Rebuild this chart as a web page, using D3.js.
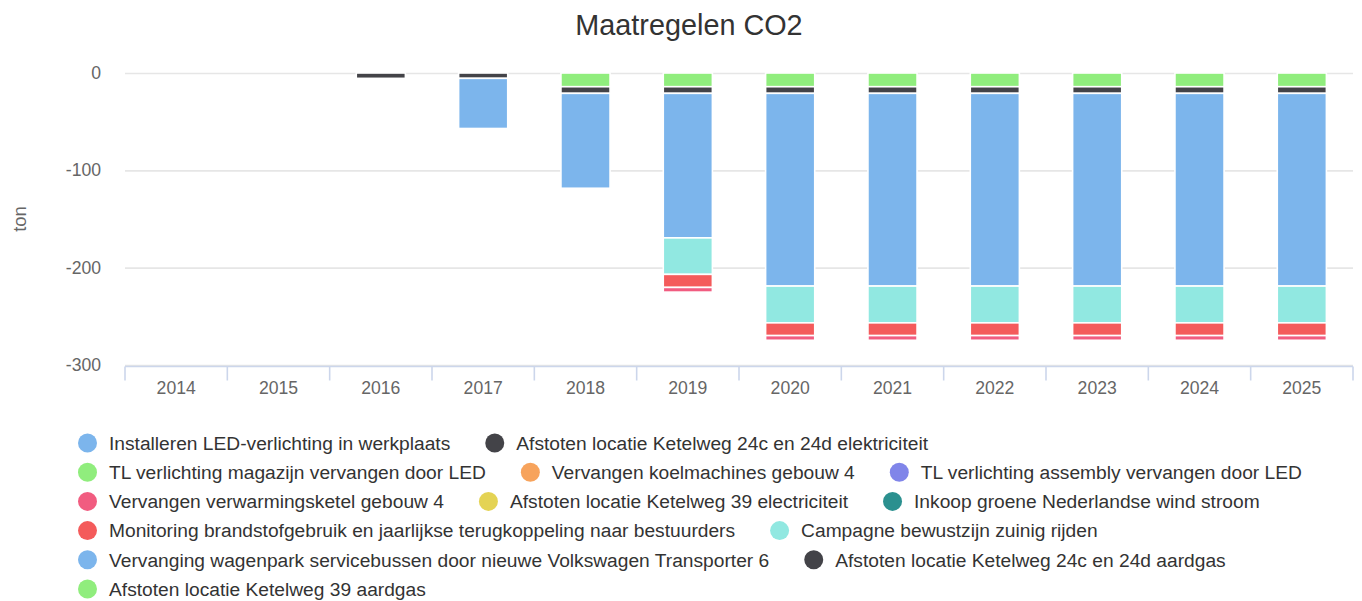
<!DOCTYPE html>
<html>
<head>
<meta charset="utf-8">
<script src="https://cdn.jsdelivr.net/npm/d3@7"></script>
<style>
  body { margin: 0; background: #fff; }
  svg { font-family: "Liberation Sans", Arial, Helvetica, sans-serif; }
</style>
</head>
<body>
<div id="chart"></div>
<script>
// categories and tick values
var years = ["2014", "2015", "2016", "2017", "2018", "2019", "2020", "2021", "2022", "2023", "2024", "2025"];
var yTicks = [0, -100, -200, -300];

// series names (legend order) and colours
var seriesNames = [
  "Installeren LED-verlichting in werkplaats",
  "Afstoten locatie Ketelweg 24c en 24d elektriciteit",
  "TL verlichting magazijn vervangen door LED",
  "Vervangen koelmachines gebouw 4",
  "TL verlichting assembly vervangen door LED",
  "Vervangen verwarmingsketel gebouw 4",
  "Afstoten locatie Ketelweg 39 electriciteit",
  "Inkoop groene Nederlandse wind stroom",
  "Monitoring brandstofgebruik en jaarlijkse terugkoppeling naar bestuurders",
  "Campagne bewustzijn zuinig rijden",
  "Vervanging wagenpark servicebussen door nieuwe Volkswagen Transporter 6",
  "Afstoten locatie Ketelweg 24c en 24d aardgas",
  "Afstoten locatie Ketelweg 39 aardgas"
];
var seriesColors = ["#7cb5ec", "#434348", "#90ed7d", "#f7a35c", "#8085e9", "#f15c80",
  "#e4d354", "#2b908f", "#f45b5b", "#91e8e1", "#7cb5ec", "#434348", "#90ed7d"];

// values per series (ton), one per year
var ledWerkplaats   = [0, 0, 0, 0, 0, 0, 0, 0, 0, 0, 0, 0];
var ketel24Elec     = [0, 0, 0, 0, 0, 0, 0, 0, 0, 0, 0, 0];
var tlMagazijn      = [0, 0, 0, 0, 0, 0, 0, 0, 0, 0, 0, 0];
var koelmachines    = [0, 0, 0, 0, 0, 0, 0, 0, 0, 0, 0, 0];
var tlAssembly      = [0, 0, 0, 0, 0, 0, 0, 0, 0, 0, 0, 0];
var verwarming      = [0, 0, 0, 0, 0, -4.8, -4.8, -4.8, -4.8, -4.8, -4.8, -4.8];
var ketel39Elec     = [0, 0, 0, 0, 0, 0, 0, 0, 0, 0, 0, 0];
var windStroom      = [0, 0, 0, 0, 0, 0, 0, 0, 0, 0, 0, 0];
var monitoring      = [0, 0, 0, 0, 0, -13.4, -13.1, -13.1, -13.1, -13.1, -13.1, -13.1];
var campagne        = [0, 0, 0, 0, 0, -37.5, -37.8, -37.8, -37.8, -37.8, -37.8, -37.8];
var wagenpark       = [0, 0, 0, -51.5, -97.5, -148.5, -198, -198, -198, -198, -198, -198];
var ketel24Gas      = [0, 0, -5.5, -5.5, -6.8, -6.8, -6.8, -6.8, -6.8, -6.8, -6.8, -6.8];
var ketel39Gas      = [0, 0, 0, 0, -14.1, -14.1, -14.1, -14.1, -14.1, -14.1, -14.1, -14.1];

var seriesValues = [ledWerkplaats, ketel24Elec, tlMagazijn, koelmachines, tlAssembly, verwarming,
  ketel39Elec, windStroom, monitoring, campagne, wagenpark, ketel24Gas, ketel39Gas];

// dimensions
var W = 1362, H = 601;
var margin = { top: 73, left: 125, right: 9 };
var plotW = W - margin.left - margin.right,
    plotH = 292;

var svg = d3.select("#chart").append("svg")
    .attr("width", W)
    .attr("height", H);

// title
svg.append("text")
    .attr("x", 689)
    .attr("y", 35)
    .attr("text-anchor", "middle")
    .attr("fill", "#333333")
    .style("font-size", "28.8px")
    .text("Maatregelen CO2");

var g = svg.append("g")
    .attr("transform", "translate(" + margin.left + "," + margin.top + ")");

// scales
var x = d3.scaleBand().domain(years).range([0, plotW]).padding(0);
var y = d3.scaleLinear().domain([-300, 0]).range([plotH, 0]);

// y grid + labels
var yAxis = g.append("g")
    .call(d3.axisLeft(y).tickValues(yTicks).tickSize(-plotW).tickPadding(24)
      .tickFormat(function(d) { return String(d); }));
yAxis.select(".domain").remove();
yAxis.selectAll(".tick line").attr("stroke", "#e6e6e6").attr("stroke-width", 1.6);
yAxis.selectAll(".tick text").attr("fill", "#666666").style("font-size", "17.6px");

// y axis title
svg.append("text")
    .attr("transform", "translate(26," + (margin.top + plotH / 2) + ") rotate(-90)")
    .attr("text-anchor", "middle")
    .attr("fill", "#666666")
    .style("font-size", "18.5px")
    .text("ton");

// stacks: later series sit closer to zero
var stacks = [];
var base = years.map(function() { return 0; });
for (var s = seriesValues.length - 1; s >= 0; s--) {
  seriesValues[s].forEach(function(v, i) {
    if (v < 0) {
      stacks.push({ s: s, year: years[i], y0: base[i], y1: base[i] + v });
      base[i] += v;
    }
  });
}

var barW = x.bandwidth() * 0.48;
g.selectAll("rect.bar")
  .data(stacks)
  .enter().append("rect")
    .attr("class", "bar")
    .attr("x", function(d) { return x(d.year) + (x.bandwidth() - barW) / 2; })
    .attr("width", barW)
    .attr("y", function(d) { return y(d.y0); })
    .attr("height", function(d) { return y(d.y1) - y(d.y0); })
    .attr("fill", function(d) { return seriesColors[d.s]; })
    .attr("stroke", "#ffffff")
    .attr("stroke-width", 1.6);

// x axis line, boundary ticks and labels
var xg = g.append("g").attr("transform", "translate(0," + (plotH + 1.5) + ")");
xg.append("line")
    .attr("x1", 0).attr("x2", plotW)
    .attr("stroke", "#ccd6eb").attr("stroke-width", 1.6);
var bounds = years.map(function(d) { return x(d); }).concat([plotW]);
xg.selectAll("line.tick")
  .data(bounds)
  .enter().append("line")
    .attr("class", "tick")
    .attr("x1", function(d) { return d; }).attr("x2", function(d) { return d; })
    .attr("y1", 0).attr("y2", 14)
    .attr("stroke", "#ccd6eb").attr("stroke-width", 1.6);
xg.selectAll("text")
  .data(years)
  .enter().append("text")
    .attr("x", function(d) { return x(d) + x.bandwidth() / 2; })
    .attr("y", 27)
    .attr("text-anchor", "middle")
    .attr("fill", "#666666")
    .style("font-size", "17.6px")
    .text(function(d) { return d; });

// legend: flowing rows
var legend = svg.append("g");
var lx0 = 78, lxMax = 1340, rowY = 443, rowH = 29.2;
var cx = lx0, row = 0;
seriesNames.forEach(function(name, i) {
  var item = legend.append("g");
  var t = item.append("text")
      .attr("x", 31)
      .attr("y", 0)
      .attr("dy", "0.35em")
      .attr("fill", "#333333")
      .style("font-size", "19.2px")
      .text(name);
  var tw = t.node().getComputedTextLength();
  var itemW = 31 + tw;
  if (cx > lx0 && cx + itemW > lxMax) {
    cx = lx0;
    row++;
  }
  item.append("circle")
      .attr("cx", 9.5)
      .attr("cy", 0)
      .attr("r", 9.5)
      .attr("fill", seriesColors[i]);
  item.attr("transform", "translate(" + cx + "," + (rowY + row * rowH) + ")");
  cx += itemW + 35;
});
</script>
</body>
</html>
